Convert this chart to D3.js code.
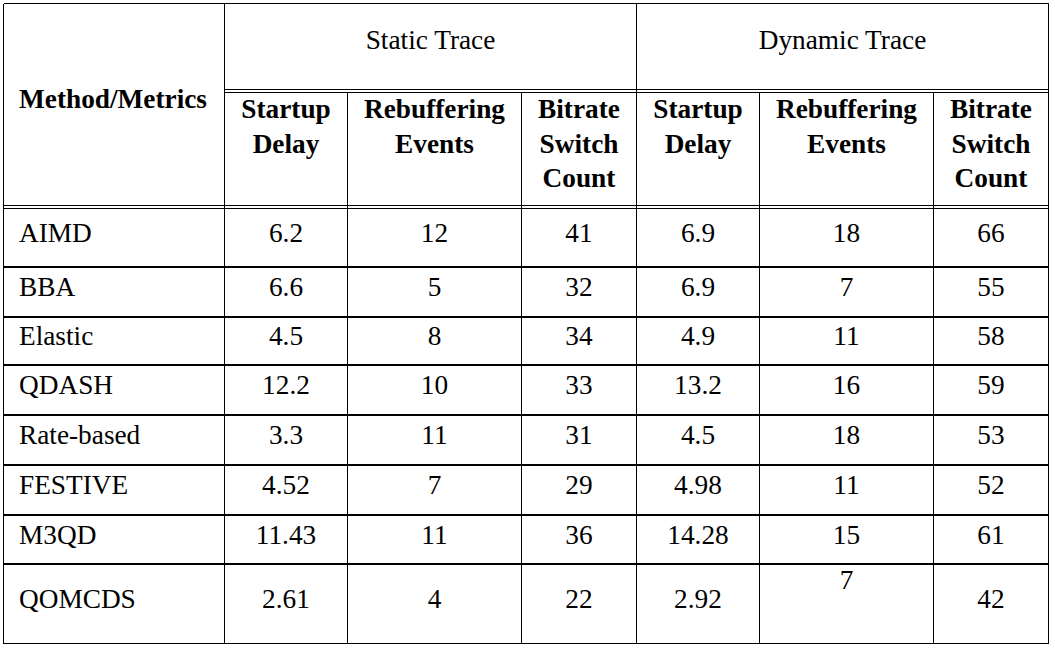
<!DOCTYPE html>
<html>
<head>
<meta charset="utf-8">
<title>ABR comparison table</title>
<style>
body { margin: 0; background: #fff; }
text { font-family: "Liberation Serif", "Times New Roman", serif; font-size: 27.3px; fill: #000; }
.head { font-weight: bold; }
line.rule { stroke: #000; stroke-width: 1.4px; shape-rendering: crispEdges; }
</style>
</head>
<body>
<script src="https://cdn.jsdelivr.net/npm/d3@7"></script>
<script>

// table content
var methods = ["AIMD", "BBA", "Elastic", "QDASH", "Rate-based", "FESTIVE", "M3QD", "QOMCDS"];
var traces = ["Static Trace", "Dynamic Trace"];
var metricLabels = [["Startup", "Delay"], ["Rebuffering", "Events"], ["Bitrate", "Switch", "Count"]];

var staticStartup = [6.2, 6.6, 4.5, 12.2, 3.3, 4.52, 11.43, 2.61];
var staticRebuf   = [12, 5, 8, 10, 11, 7, 11, 4];
var staticSwitch  = [41, 32, 34, 33, 31, 29, 36, 22];
var dynStartup    = [6.9, 6.9, 4.9, 13.2, 4.5, 4.98, 14.28, 2.92];
var dynRebuf      = [18, 7, 11, 16, 18, 11, 15, 7];
var dynSwitch     = [66, 55, 58, 59, 53, 52, 61, 42];

var columns = [staticStartup, staticRebuf, staticSwitch, dynStartup, dynRebuf, dynSwitch];

// layout (grid edges in px)
var width = 1055, height = 652;
var colEdges = [3.5, 224.5, 347.5, 521.5, 636.5, 759.5, 933.5, 1048.5];
var rowEdges = [208.5, 267, 317, 365, 415, 465, 515, 564, 643.5];

var svg = d3.select("body").append("svg")
    .attr("width", width)
    .attr("height", height);

var colIdx = d3.range(columns.length);
var x = d3.scaleOrdinal()
    .domain(colIdx)
    .range(colIdx.map(function(i) { return (colEdges[i + 1] + colEdges[i + 2]) / 2; }));

var y = d3.scaleOrdinal()
    .domain(methods)
    .range(methods.map(function(m, i) { return (rowEdges[i] + rowEdges[i + 1]) / 2 + 4; }));

// rules
var rules = [
  // outer box
  [colEdges[0], 3.5, colEdges[7], 3.5],
  [colEdges[0], 643.5, colEdges[7], 643.5],
  [colEdges[0], 3.5, colEdges[0], 643.5],
  [colEdges[7], 3.5, colEdges[7], 643.5],
  // group / metric double rule
  [colEdges[1], 89.5, colEdges[7], 89.5],
  [colEdges[1], 92.5, colEdges[7], 92.5],
  // header / body double rule
  [colEdges[0], 205.5, colEdges[7], 205.5],
  [colEdges[0], 208.5, colEdges[7], 208.5],
  // full-height verticals
  [colEdges[1], 3.5, colEdges[1], 643.5],
  [colEdges[4], 3.5, colEdges[4], 643.5]
];
[2, 3, 5, 6].forEach(function(i) {
  rules.push([colEdges[i], 92.5, colEdges[i], 643.5]);
});
rowEdges.slice(1, -1).forEach(function(r) {
  rules.push([colEdges[0], r, colEdges[7], r]);
});

svg.append("g").selectAll("line")
    .data(rules)
    .enter().append("line")
    .attr("class", "rule")
    .attr("x1", function(d) { return d[0]; })
    .attr("y1", function(d) { return d[1]; })
    .attr("x2", function(d) { return d[2]; })
    .attr("y2", function(d) { return d[3]; });

// header
svg.append("text")
    .attr("class", "head")
    .attr("x", 19)
    .attr("y", 108)
    .text("Method/Metrics");

svg.append("g").selectAll("text")
    .data(traces)
    .enter().append("text")
    .attr("text-anchor", "middle")
    .attr("x", function(d, i) { return (colEdges[1 + 3 * i] + colEdges[4 + 3 * i]) / 2; })
    .attr("y", 49)
    .text(function(d) { return d; });

var sub = svg.append("g").selectAll("text")
    .data(colIdx)
    .enter().append("text")
    .attr("class", "head")
    .attr("text-anchor", "middle");

sub.selectAll("tspan")
    .data(function(i) { return metricLabels[i % 3].map(function(t) { return {t: t, c: i}; }); })
    .enter().append("tspan")
    .attr("x", function(d) { return x(d.c); })
    .attr("y", function(d, j) { return 118 + j * 34.5; })
    .text(function(d) { return d.t; });

// body
svg.append("g").selectAll("text")
    .data(methods)
    .enter().append("text")
    .attr("x", 19)
    .attr("y", function(d) { return y(d); })
    .text(function(d) { return d; });

var cells = [];
columns.forEach(function(col, c) {
  col.forEach(function(v, r) { cells.push({c: c, r: r, v: v}); });
});

svg.append("g").selectAll("text")
    .data(cells)
    .enter().append("text")
    .attr("text-anchor", "middle")
    .attr("x", function(d) { return x(d.c); })
    .attr("y", function(d) {
      // the last dynamic rebuffering value sits higher in the original
      var base = y(methods[d.r]);
      return (d.c === 4 && d.r === methods.length - 1) ? base - 19 : base;
    })
    .text(function(d) { return d.v; });

</script>
</body>
</html>
